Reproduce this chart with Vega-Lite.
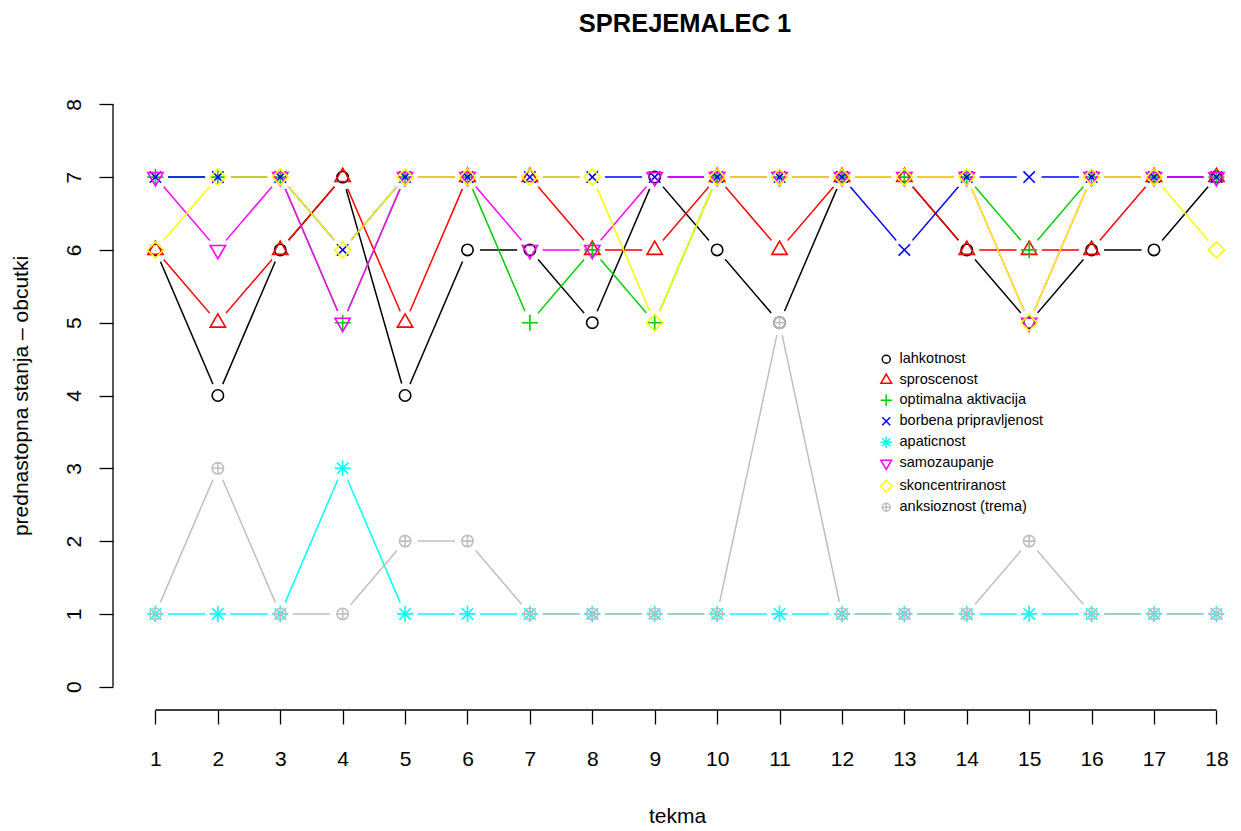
{
  "$schema": "https://vega.github.io/schema/vega-lite/v6.json",
  "width": 1128,
  "height": 629,
  "autosize": "none",
  "padding": {"left": 113, "top": 81, "right": 0, "bottom": 121},
  "background": "white",
  "config": {
    "view": {"stroke": null},
    "font": "Liberation Sans"
  },
  "title": {
    "text": "SPREJEMALEC 1",
    "font": "Liberation Sans",
    "fontSize": 25.5,
    "fontWeight": "bold",
    "color": "black",
    "anchor": "middle",
    "frame": "group",
    "baseline": "alphabetic",
    "offset": 24,
    "dx": 8
  },
  "datasets": {
    "scores": [
      {"t": 1, "series": "lahkotnost", "v": 6}, {"t": 2, "series": "lahkotnost", "v": 4}, {"t": 3, "series": "lahkotnost", "v": 6}, {"t": 4, "series": "lahkotnost", "v": 7}, {"t": 5, "series": "lahkotnost", "v": 4}, {"t": 6, "series": "lahkotnost", "v": 6}, {"t": 7, "series": "lahkotnost", "v": 6}, {"t": 8, "series": "lahkotnost", "v": 5}, {"t": 9, "series": "lahkotnost", "v": 7}, {"t": 10, "series": "lahkotnost", "v": 6}, {"t": 11, "series": "lahkotnost", "v": 5}, {"t": 12, "series": "lahkotnost", "v": 7}, {"t": 13, "series": "lahkotnost", "v": 7}, {"t": 14, "series": "lahkotnost", "v": 6}, {"t": 15, "series": "lahkotnost", "v": 5}, {"t": 16, "series": "lahkotnost", "v": 6}, {"t": 17, "series": "lahkotnost", "v": 6}, {"t": 18, "series": "lahkotnost", "v": 7},
      {"t": 1, "series": "sproscenost", "v": 6}, {"t": 2, "series": "sproscenost", "v": 5}, {"t": 3, "series": "sproscenost", "v": 6}, {"t": 4, "series": "sproscenost", "v": 7}, {"t": 5, "series": "sproscenost", "v": 5}, {"t": 6, "series": "sproscenost", "v": 7}, {"t": 7, "series": "sproscenost", "v": 7}, {"t": 8, "series": "sproscenost", "v": 6}, {"t": 9, "series": "sproscenost", "v": 6}, {"t": 10, "series": "sproscenost", "v": 7}, {"t": 11, "series": "sproscenost", "v": 6}, {"t": 12, "series": "sproscenost", "v": 7}, {"t": 13, "series": "sproscenost", "v": 7}, {"t": 14, "series": "sproscenost", "v": 6}, {"t": 15, "series": "sproscenost", "v": 6}, {"t": 16, "series": "sproscenost", "v": 6}, {"t": 17, "series": "sproscenost", "v": 7}, {"t": 18, "series": "sproscenost", "v": 7},
      {"t": 1, "series": "optimalna aktivacija", "v": 7}, {"t": 2, "series": "optimalna aktivacija", "v": 7}, {"t": 3, "series": "optimalna aktivacija", "v": 7}, {"t": 4, "series": "optimalna aktivacija", "v": 5}, {"t": 5, "series": "optimalna aktivacija", "v": 7}, {"t": 6, "series": "optimalna aktivacija", "v": 7}, {"t": 7, "series": "optimalna aktivacija", "v": 5}, {"t": 8, "series": "optimalna aktivacija", "v": 6}, {"t": 9, "series": "optimalna aktivacija", "v": 5}, {"t": 10, "series": "optimalna aktivacija", "v": 7}, {"t": 11, "series": "optimalna aktivacija", "v": 7}, {"t": 12, "series": "optimalna aktivacija", "v": 7}, {"t": 13, "series": "optimalna aktivacija", "v": 7}, {"t": 14, "series": "optimalna aktivacija", "v": 7}, {"t": 15, "series": "optimalna aktivacija", "v": 6}, {"t": 16, "series": "optimalna aktivacija", "v": 7}, {"t": 17, "series": "optimalna aktivacija", "v": 7}, {"t": 18, "series": "optimalna aktivacija", "v": 7},
      {"t": 1, "series": "borbena pripravljenost", "v": 7}, {"t": 2, "series": "borbena pripravljenost", "v": 7}, {"t": 3, "series": "borbena pripravljenost", "v": 7}, {"t": 4, "series": "borbena pripravljenost", "v": 6}, {"t": 5, "series": "borbena pripravljenost", "v": 7}, {"t": 6, "series": "borbena pripravljenost", "v": 7}, {"t": 7, "series": "borbena pripravljenost", "v": 7}, {"t": 8, "series": "borbena pripravljenost", "v": 7}, {"t": 9, "series": "borbena pripravljenost", "v": 7}, {"t": 10, "series": "borbena pripravljenost", "v": 7}, {"t": 11, "series": "borbena pripravljenost", "v": 7}, {"t": 12, "series": "borbena pripravljenost", "v": 7}, {"t": 13, "series": "borbena pripravljenost", "v": 6}, {"t": 14, "series": "borbena pripravljenost", "v": 7}, {"t": 15, "series": "borbena pripravljenost", "v": 7}, {"t": 16, "series": "borbena pripravljenost", "v": 7}, {"t": 17, "series": "borbena pripravljenost", "v": 7}, {"t": 18, "series": "borbena pripravljenost", "v": 7},
      {"t": 1, "series": "apaticnost", "v": 1}, {"t": 2, "series": "apaticnost", "v": 1}, {"t": 3, "series": "apaticnost", "v": 1}, {"t": 4, "series": "apaticnost", "v": 3}, {"t": 5, "series": "apaticnost", "v": 1}, {"t": 6, "series": "apaticnost", "v": 1}, {"t": 7, "series": "apaticnost", "v": 1}, {"t": 8, "series": "apaticnost", "v": 1}, {"t": 9, "series": "apaticnost", "v": 1}, {"t": 10, "series": "apaticnost", "v": 1}, {"t": 11, "series": "apaticnost", "v": 1}, {"t": 12, "series": "apaticnost", "v": 1}, {"t": 13, "series": "apaticnost", "v": 1}, {"t": 14, "series": "apaticnost", "v": 1}, {"t": 15, "series": "apaticnost", "v": 1}, {"t": 16, "series": "apaticnost", "v": 1}, {"t": 17, "series": "apaticnost", "v": 1}, {"t": 18, "series": "apaticnost", "v": 1},
      {"t": 1, "series": "samozaupanje", "v": 7}, {"t": 2, "series": "samozaupanje", "v": 6}, {"t": 3, "series": "samozaupanje", "v": 7}, {"t": 4, "series": "samozaupanje", "v": 5}, {"t": 5, "series": "samozaupanje", "v": 7}, {"t": 6, "series": "samozaupanje", "v": 7}, {"t": 7, "series": "samozaupanje", "v": 6}, {"t": 8, "series": "samozaupanje", "v": 6}, {"t": 9, "series": "samozaupanje", "v": 7}, {"t": 10, "series": "samozaupanje", "v": 7}, {"t": 11, "series": "samozaupanje", "v": 7}, {"t": 12, "series": "samozaupanje", "v": 7}, {"t": 13, "series": "samozaupanje", "v": 7}, {"t": 14, "series": "samozaupanje", "v": 7}, {"t": 15, "series": "samozaupanje", "v": 5}, {"t": 16, "series": "samozaupanje", "v": 7}, {"t": 17, "series": "samozaupanje", "v": 7}, {"t": 18, "series": "samozaupanje", "v": 7},
      {"t": 1, "series": "skoncentriranost", "v": 6}, {"t": 2, "series": "skoncentriranost", "v": 7}, {"t": 3, "series": "skoncentriranost", "v": 7}, {"t": 4, "series": "skoncentriranost", "v": 6}, {"t": 5, "series": "skoncentriranost", "v": 7}, {"t": 6, "series": "skoncentriranost", "v": 7}, {"t": 7, "series": "skoncentriranost", "v": 7}, {"t": 8, "series": "skoncentriranost", "v": 7}, {"t": 9, "series": "skoncentriranost", "v": 5}, {"t": 10, "series": "skoncentriranost", "v": 7}, {"t": 11, "series": "skoncentriranost", "v": 7}, {"t": 12, "series": "skoncentriranost", "v": 7}, {"t": 13, "series": "skoncentriranost", "v": 7}, {"t": 14, "series": "skoncentriranost", "v": 7}, {"t": 15, "series": "skoncentriranost", "v": 5}, {"t": 16, "series": "skoncentriranost", "v": 7}, {"t": 17, "series": "skoncentriranost", "v": 7}, {"t": 18, "series": "skoncentriranost", "v": 6},
      {"t": 1, "series": "anksioznost (trema)", "v": 1}, {"t": 2, "series": "anksioznost (trema)", "v": 3}, {"t": 3, "series": "anksioznost (trema)", "v": 1}, {"t": 4, "series": "anksioznost (trema)", "v": 1}, {"t": 5, "series": "anksioznost (trema)", "v": 2}, {"t": 6, "series": "anksioznost (trema)", "v": 2}, {"t": 7, "series": "anksioznost (trema)", "v": 1}, {"t": 8, "series": "anksioznost (trema)", "v": 1}, {"t": 9, "series": "anksioznost (trema)", "v": 1}, {"t": 10, "series": "anksioznost (trema)", "v": 1}, {"t": 11, "series": "anksioznost (trema)", "v": 5}, {"t": 12, "series": "anksioznost (trema)", "v": 1}, {"t": 13, "series": "anksioznost (trema)", "v": 1}, {"t": 14, "series": "anksioznost (trema)", "v": 1}, {"t": 15, "series": "anksioznost (trema)", "v": 2}, {"t": 16, "series": "anksioznost (trema)", "v": 1}, {"t": 17, "series": "anksioznost (trema)", "v": 1}, {"t": 18, "series": "anksioznost (trema)", "v": 1}
    ],
    "frame": [{"k": 0}]
  },
  "layer": [
    {
      "data": {"name": "scores"},
      "mark": {"type": "line", "strokeWidth": 1.5},
      "encoding": {
        "x": {
          "field": "t",
          "type": "quantitative",
          "scale": {"domain": [0.32, 18.394], "nice": false, "zero": false},
          "axis": {
            "values": [1, 2, 3, 4, 5, 6, 7, 8, 9, 10, 11, 12, 13, 14, 15, 16, 17, 18],
            "format": "d",
            "domain": false,
            "grid": false,
            "tickSize": 14,
            "tickWidth": 1.3,
            "tickColor": "black",
            "labelFont": "Liberation Sans",
            "labelFontSize": 21,
            "labelColor": "black",
            "labelBaseline": "alphabetic",
            "labelPadding": 41,
            "labelFlush": false,
            "labelOverlap": false,
            "title": "tekma",
            "titleFont": "Liberation Sans",
            "titleFontSize": 21,
            "titleFontWeight": "normal",
            "titleColor": "black",
            "titlePadding": 36
          }
        },
        "y": {
          "field": "v",
          "type": "quantitative",
          "scale": {"domain": [-0.32, 8.32], "nice": false, "zero": false},
          "axis": {
            "values": [0, 1, 2, 3, 4, 5, 6, 7, 8],
            "format": "d",
            "domain": false,
            "grid": false,
            "tickSize": 14,
            "tickWidth": 1.3,
            "tickColor": "black",
            "labelFont": "Liberation Sans",
            "labelFontSize": 21,
            "labelColor": "black",
            "labelAngle": 270,
            "labelAlign": "center",
            "labelBaseline": "alphabetic",
            "labelPadding": 19,
            "labelFlush": false,
            "labelOverlap": false,
            "title": "prednastopna stanja – obcutki",
            "titleFont": "Liberation Sans",
            "titleFontSize": 21,
            "titleFontWeight": "normal",
            "titleColor": "black",
            "titlePadding": 32
          }
        },
        "color": {
          "field": "series",
          "type": "nominal",
          "scale": {
            "domain": ["lahkotnost", "sproscenost", "optimalna aktivacija", "borbena pripravljenost", "apaticnost", "samozaupanje", "skoncentriranost", "anksioznost (trema)"],
            "range": ["#000000", "#FF0000", "#00CD00", "#0000FF", "#00FFFF", "#FF00FF", "#FFFF00", "#BEBEBE"]
          }
        }
      }
    },
    {
      "data": {"name": "scores"},
      "mark": {"type": "point", "filled": true, "color": "white", "opacity": 1, "size": 625, "shape": "circle", "strokeWidth": 0},
      "encoding": {
        "x": {"field": "t", "type": "quantitative"},
        "y": {"field": "v", "type": "quantitative"}
      }
    },
    {
      "data": {"name": "scores"},
      "mark": {"type": "point", "filled": false, "size": 130, "strokeWidth": 1.6, "opacity": 1},
      "encoding": {
        "x": {"field": "t", "type": "quantitative"},
        "y": {"field": "v", "type": "quantitative"},
        "color": {
          "field": "series",
          "type": "nominal",
          "legend": {
            "title": null,
            "orient": "none",
            "legendX": 766,
            "legendY": 271,
            "padding": 0,
            "symbolSize": 64,
            "symbolStrokeWidth": 1.5,
            "labelFont": "Liberation Sans",
            "labelFontSize": 14.5,
            "labelColor": "black",
            "labelOffset": 6,
            "rowPadding": 4,
            "labelLimit": 400
          }
        },
        "shape": {
          "field": "series",
          "type": "nominal",
          "scale": {
            "domain": ["lahkotnost", "sproscenost", "optimalna aktivacija", "borbena pripravljenost", "apaticnost", "samozaupanje", "skoncentriranost", "anksioznost (trema)"],
            "range": [
              "M1,0A1,1,0,1,1,-1,0A1,1,0,1,1,1,0Z",
              "M0,-1.555L1.347,0.778L-1.347,0.778Z",
              "M-1.414,0L1.414,0M0,-1.414L0,1.414",
              "M-1,-1L1,1M-1,1L1,-1",
              "M-1,-1L1,1M-1,1L1,-1M-1.414,0L1.414,0M0,-1.414L0,1.414",
              "M0,1.555L1.347,-0.778L-1.347,-0.778Z",
              "M0,-1.414L1.414,0L0,1.414L-1.414,0Z",
              "M1,0A1,1,0,1,1,-1,0A1,1,0,1,1,1,0ZM-1,0L1,0M0,-1L0,1"
            ]
          },
          "legend": {
            "title": null,
            "orient": "none",
            "legendX": 766,
            "legendY": 271,
            "padding": 0,
            "symbolSize": 64,
            "symbolStrokeWidth": 1.5,
            "labelFont": "Liberation Sans",
            "labelFontSize": 14.5,
            "labelColor": "black",
            "labelOffset": 6,
            "rowPadding": 4,
            "labelLimit": 400
          }
        }
      }
    },
    {
      "data": {"name": "frame"},
      "mark": {"type": "rule", "color": "black", "strokeWidth": 1.3},
      "encoding": {
        "x": {"datum": 1, "type": "quantitative"},
        "x2": {"datum": 18},
        "y": {"datum": -0.32, "type": "quantitative"}
      }
    },
    {
      "data": {"name": "frame"},
      "mark": {"type": "rule", "color": "black", "strokeWidth": 1.3},
      "encoding": {
        "x": {"datum": 0.32, "type": "quantitative"},
        "y": {"datum": 0, "type": "quantitative"},
        "y2": {"datum": 8}
      }
    }
  ]
}
